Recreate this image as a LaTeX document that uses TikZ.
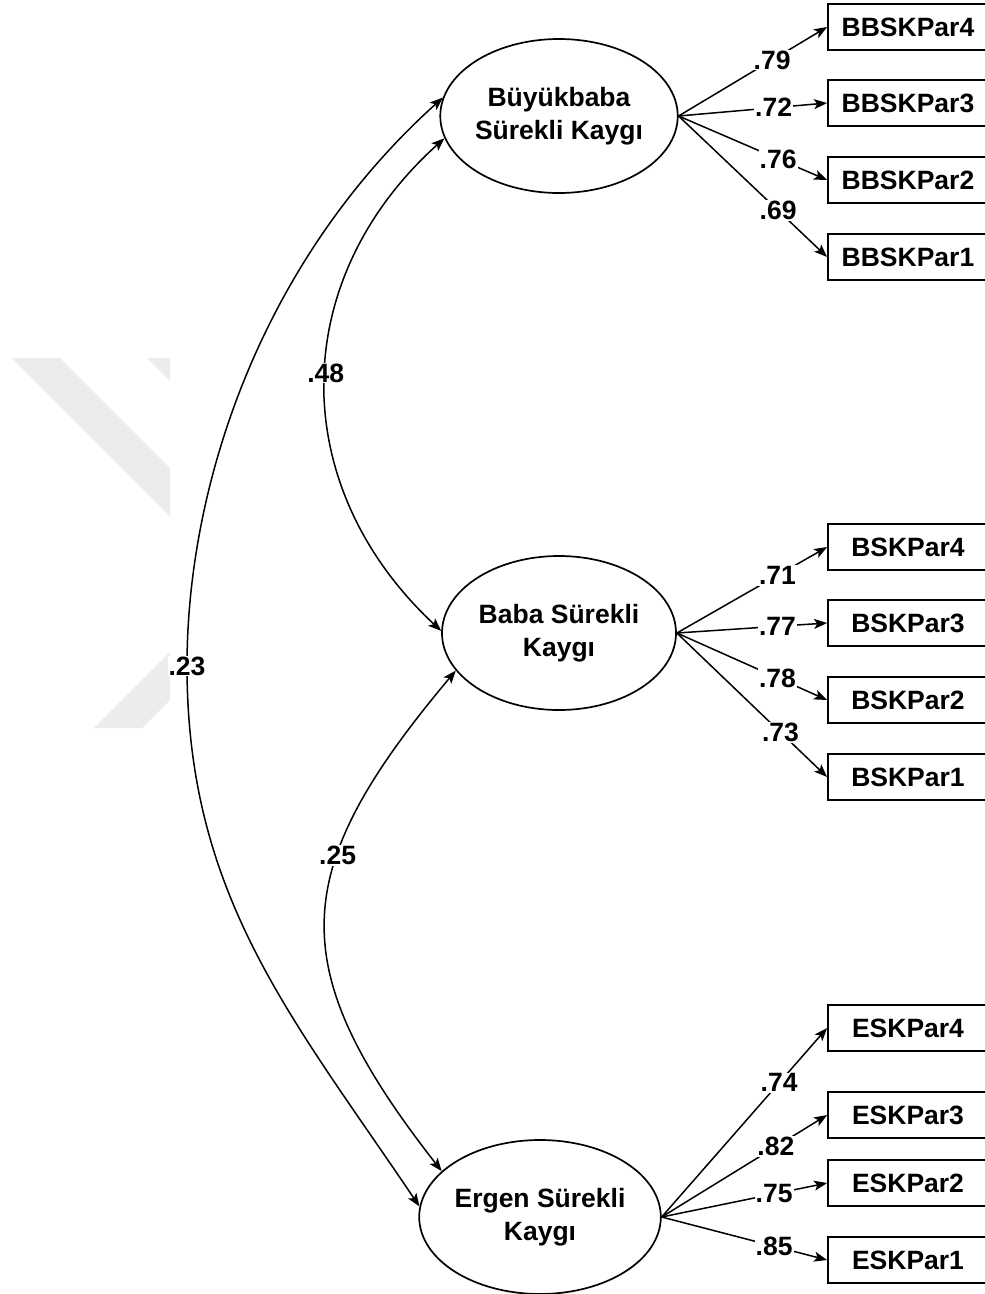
\documentclass[tikz,border=0pt]{standalone}
\usepackage{fontspec}
\setmainfont{Liberation Sans}
\usetikzlibrary{arrows.meta,shapes.geometric}
\definecolor{wmark}{RGB}{236,236,236}
\begin{document}
\begin{tikzpicture}[x=1pt,y=1pt,
  font=\bfseries\fontsize{26.5}{33}\selectfont,
  latent/.style={draw,ellipse,line width=1.7pt,minimum width=234pt,minimum height=154pt,inner sep=0pt,align=center},
  obs/.style={draw,rectangle,line width=1.8pt,minimum width=160pt,minimum height=46pt,inner sep=0pt},
  tipA/.tip={Stealth[length=13pt,width=10pt,inset=3pt]},
  load/.style={line width=1.5pt,-tipA},
  cov/.style={line width=1.5pt,tipA-tipA},
  coef/.style={fill=white,inner sep=1pt}
]
\fill[white] (0,0) rectangle (985,-1294);
\useasboundingbox (0,0) rectangle (985,-1294);
% watermark
\fill[wmark] (12,-358) -- (60,-358) -- (170,-468) -- (170,-516) -- cycle;
\fill[wmark] (147,-358) -- (170,-358) -- (170,-381) -- cycle;
\fill[wmark] (170,-652) -- (170,-700) -- (142,-728) -- (94,-728) -- cycle;

% latent variables
\node[latent] (E1) at (559,-116) {Büyükbaba\\Sürekli Kaygı};
\node[latent] (E2) at (559,-633) {Baba Sürekli\\Kaygı};
\node[latent] (E3) at (540,-1217) {Ergen Sürekli\\Kaygı};

% observed
\node[obs] (b4) at (908,-27) {BBSKPar4};
\node[obs] (b3) at (908,-103) {BBSKPar3};
\node[obs] (b2) at (908,-180) {BBSKPar2};
\node[obs] (b1) at (908,-257) {BBSKPar1};
\node[obs] (f4) at (908,-547) {BSKPar4};
\node[obs] (f3) at (908,-623) {BSKPar3};
\node[obs] (f2) at (908,-700) {BSKPar2};
\node[obs] (f1) at (908,-777) {BSKPar1};
\node[obs] (e4) at (908,-1028) {ESKPar4};
\node[obs] (e3) at (908,-1115) {ESKPar3};
\node[obs] (e2) at (908,-1183) {ESKPar2};
\node[obs] (e1) at (908,-1260) {ESKPar1};

% loadings
\draw[load] (E1.east) -- node[coef,pos=.63] (l79) {.79} (b4.west);
\draw[load] (E1.east) -- node[coef,pos=.64] (l72) {.72} (b3.west);
\draw[load] (E1.east) -- node[coef,pos=.67] (l76) {.76} (b2.west);
\draw[load] (E1.east) -- node[coef,pos=.67] (l69) {.69} (b1.west);

\draw[load] (E2.east) -- node[coef,pos=.67] (l71) {.71} (f4.west);
\draw[load] (E2.east) -- node[coef,pos=.67] (l77) {.77} (f3.west);
\draw[load] (E2.east) -- node[coef,pos=.67] (l78) {.78} (f2.west);
\draw[load] (E2.east) -- node[coef,pos=.69] (l73) {.73} (f1.west);

\draw[load] (E3.east) -- node[coef,pos=.71] (l74) {.74} (e4.west);
\draw[load] (E3.east) -- node[coef,pos=.69] (l82) {.82} (e3.west);
\draw[load] (E3.east) -- node[coef,pos=.68] (l75) {.75} (e2.west);
\draw[load] (E3.east) -- node[coef,pos=.68] (l85) {.85} (e1.west);

% covariances
\draw[cov] (E1.191) to[out=222,in=137,looseness=1.1] node[coef,pos=.48] (l48) {.48} (E2.179);
\draw[cov] (E2.200) to[out=230,in=128,looseness=1.33] node[coef,pos=.36] (l25) {.25} (E3.155);
\coordinate (m23) at (187,-666);
\draw[cov] (E1.171) to[out=222,in=90,out looseness=1,in looseness=0.75] (m23) to[out=270,in=124] (E3.175);
\node[coef] (l23) at (m23) {.23};
\end{tikzpicture}
\end{document}
